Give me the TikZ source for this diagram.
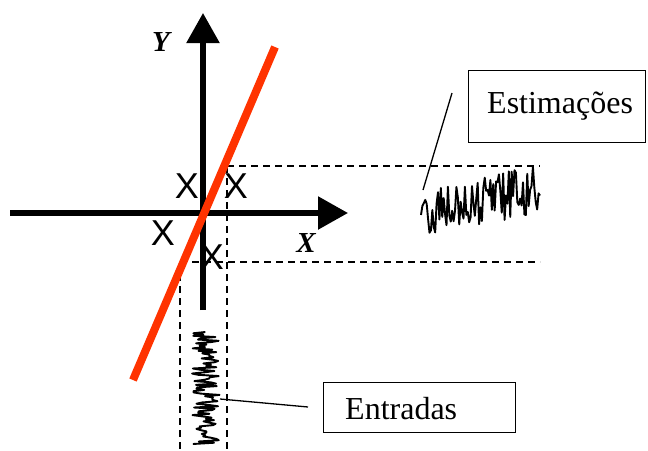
\documentclass[tikz,border=0pt]{standalone}
\usepackage{fontspec}
\setmainfont{Liberation Serif}
\newfontfamily\arialfont{Liberation Sans}
\usetikzlibrary{arrows.meta}
\definecolor{fitred}{RGB}{255,51,0}
\tikzset{
  axis/.style={line width=5.5pt,-{Triangle[width=32pt,length=30pt]}},
  guide/.style={line width=1.3pt,dash pattern=on 7pt off 5pt},
  mark x/.style={font=\arialfont\fontsize{36}{36}\selectfont,inner sep=0pt},
  axlabel/.style={font=\bfseries\itshape\fontsize{29}{29}\selectfont,inner sep=0pt},
  labelbox/.style={draw,line width=1.3pt,inner sep=0pt},
  boxtext/.style={font=\fontsize{32}{32}\selectfont,inner sep=0pt,anchor=west},
  noise/.style={line width=1.9pt,line join=round},
  pointer/.style={line width=1.3pt}
}
\begin{document}
\begin{tikzpicture}[x=1pt,y=-1pt]
\useasboundingbox (0,0) rectangle (648,450);
% guides
\coordinate (gA) at (227,166);
\coordinate (gB) at (540,166);
\coordinate (gC) at (180,262);
\coordinate (gD) at (540,262);
\coordinate (gE) at (180,450);
\coordinate (gF) at (227,450);
\draw[guide] (gA) -- (gB);
\draw[guide] (gC) -- (gD);
\draw[guide] (gC) -- (gE);
\draw[guide] (gA) -- (gF);
% axes
\coordinate (yb) at (203,310);
\coordinate (yt) at (203,13);
\coordinate (xl) at (10,213);
\coordinate (xr) at (348,213);
\draw[axis] (yb) -- (yt);
\draw[axis] (xl) -- (xr);
\node[axlabel] (ylab) at (161,42) {Y};
\node[axlabel] (xlab) at (306,243) {X};
% fit line
\coordinate (r1) at (275,47);
\coordinate (r2) at (133,380);
\draw[fitred,line width=8pt] (r1) -- (r2);
% data marks
\node[mark x] (m1) at (187,186) {X};
\node[mark x] (m2) at (236,186) {X};
\node[mark x] (m3) at (163,233) {X};
\node[mark x] (m4) at (212,257) {X};
% noise signals
\pgfmathsetseed{11}
\draw[noise] plot[domain=421:540,samples=85] (\x,{214-0.2*(\x-421)+26*rand});
\pgfmathsetseed{5}
\draw[noise] plot[domain=332:444,samples=90] ({206+14*rand},\x);
% label boxes
\node[labelbox,minimum width=177pt,minimum height=72pt,anchor=north west] (est) at (468,70) {};
\node[boxtext] (estT) at (487,106) {Estimações};
\node[labelbox,minimum width=192pt,minimum height=50pt,anchor=north west] (ent) at (323,382) {};
\node[boxtext] (entT) at (345,409) {Entradas};
\coordinate (p1) at (452,93);
\coordinate (p2) at (423,190);
\draw[pointer] (p1) -- (p2);
\coordinate (q1) at (220,399);
\coordinate (q2) at (308,407);
\draw[pointer] (q1) -- (q2);
\end{tikzpicture}
\end{document}
